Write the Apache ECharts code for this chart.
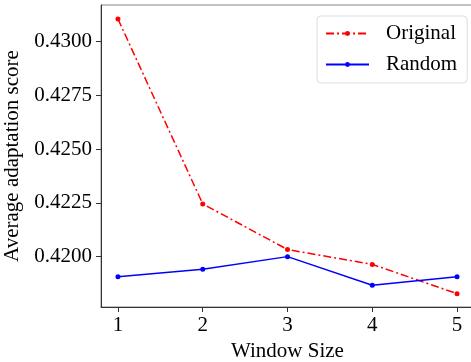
<!DOCTYPE html>
<html>
<head>
<meta charset="utf-8">
<script src="https://cdn.jsdelivr.net/npm/echarts@6/dist/echarts.min.js"></script>
<style>
html, body { margin: 0; padding: 0; background: #fff; }
#chart { width: 471px; height: 362px; }
</style>
</head>
<body>
<div id="chart"></div>
<script>
var windowSizes = [1, 2, 3, 4, 5];
var originalScores = [0.43104, 0.42245, 0.42033, 0.41964, 0.41828];
var randomScores = [0.41907, 0.41941, 0.42000, 0.41867, 0.41907];
var yTicks = [0.4200, 0.4225, 0.4250, 0.4275, 0.4300];

var font = 'Liberation Serif';
var myChart = echarts.init(document.getElementById('chart'));

function pairs(xs, ys) {
	return xs.map(function (x, i) { return [x, ys[i]]; });
}

var option = {
	animation: false,
	grid: {
		left: 101,
		top: 5,
		right: -3,
		bottom: 55,
		containLabel: false,
		outerBoundsMode: 'none',
		show: true,
		borderColor: '#888',
		borderWidth: 1
	},
	legend: {
		left: 317,
		top: 16,
		orient: 'vertical',
		padding: [7, 10, 8, 8],
		itemWidth: 43,
		itemHeight: 6,
		itemGap: 10,
		backgroundColor: '#fff',
		borderColor: '#ddd',
		borderWidth: 1,
		borderRadius: 4,
		textStyle: {
			fontFamily: font,
			fontSize: 21,
			color: '#000',
			padding: [0, 0, 0, 12]
		},
		data: ['Original', 'Random']
	},
	xAxis: {
		type: 'value',
		min: 0.8,
		max: 5.2,
		name: 'Window Size',
		nameLocation: 'middle',
		nameGap: 25,
		nameTextStyle: { fontFamily: font, fontSize: 21, color: '#000' },
		axisLine: { lineStyle: { color: '#333', width: 1 } },
		axisTick: { show: true, length: 5, lineStyle: { color: '#333' }, customValues: windowSizes },
		axisLabel: {
			fontFamily: font, fontSize: 21, color: '#000', margin: 8,
			customValues: windowSizes
		},
		splitLine: { show: false }
	},
	yAxis: {
		type: 'value',
		min: 0.41766,
		max: 0.43169,
		name: 'Average adaptation score',
		nameLocation: 'middle',
		nameGap: 67,
		nameTextStyle: { fontFamily: font, fontSize: 21, color: '#000' },
		axisLine: { show: true, lineStyle: { color: '#333', width: 1 } },
		axisTick: { show: true, length: 5, lineStyle: { color: '#333' }, customValues: yTicks },
		axisLabel: {
			fontFamily: font, fontSize: 21, color: '#000', margin: 9,
			customValues: yTicks,
			formatter: function (v) { return v.toFixed(4); }
		},
		splitLine: { show: false }
	},
	series: [
		{
			name: 'Original',
			type: 'line',
			data: pairs(windowSizes, originalScores),
			symbol: 'circle',
			symbolSize: 5,
			itemStyle: { color: '#ff0000' },
			lineStyle: { color: '#ff0000', width: 1.5, type: [8, 3, 2, 3] }
		},
		{
			name: 'Random',
			type: 'line',
			data: pairs(windowSizes, randomScores),
			symbol: 'circle',
			symbolSize: 5,
			itemStyle: { color: '#0000ff' },
			lineStyle: { color: '#0000ff', width: 1.5 }
		}
	]
};
myChart.setOption(option);
</script>
</body>
</html>
